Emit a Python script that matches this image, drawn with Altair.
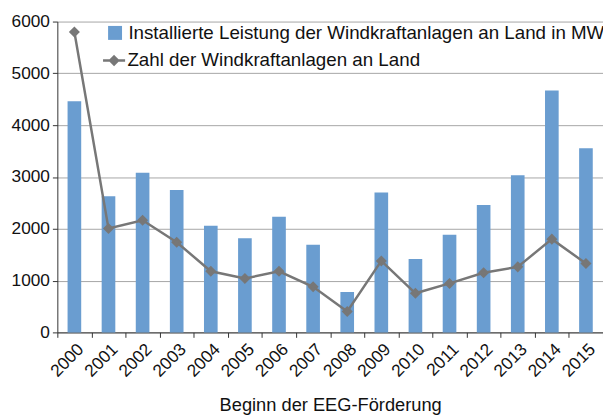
import altair as alt
import pandas as pd

jahre = ["2000", "2001", "2002", "2003", "2004", "2005", "2006", "2007",
         "2008", "2009", "2010", "2011", "2012", "2013", "2014", "2015"]
leistung_mw = [4460, 2630, 3080, 2750, 2060, 1815, 2230, 1690,
               780, 2700, 1415, 1885, 2460, 3035, 4670, 3555]
anzahl_anlagen = [5800, 2005, 2165, 1740, 1180, 1040, 1180, 880,
                  405, 1380, 755, 945, 1150, 1265, 1800, 1330]
y_ticks = [0, 1000, 2000, 3000, 4000, 5000, 6000]

serie_bar = "Installierte Leistung der Windkraftanlagen an Land in MW"
serie_line = "Zahl der Windkraftanlagen an Land"

df = pd.DataFrame({
    "Jahr": jahre,
    "Leistung": leistung_mw,
    "Anzahl": anzahl_anlagen,
    "s1": serie_bar,
    "s2": serie_line,
})

FONT = "Liberation Sans"
BLUE = "#6a9dd0"
GRAY = "#777777"

x_enc = alt.X(
    "Jahr:N", sort=jahre, title="Beginn der EEG-Förderung",
    scale=alt.Scale(paddingInner=0, paddingOuter=0),
    axis=alt.Axis(labelAngle=-45, tickBand="extent", labelFontSize=17.5,
                  titleFontSize=18.5, titlePadding=16, labelPadding=3,
                  tickSize=5, domainColor="#333333", tickColor="#333333",
                  labelColor="#111111", titleColor="#111111",
                  titleFontWeight="normal", grid=False),
)
y_scale = alt.Scale(domain=[0, 6000], nice=False)
y_axis = alt.Axis(values=y_ticks, format="d", title=None, labelFontSize=17.5,
                  grid=True, gridColor="#a6a6a6", gridWidth=1, tickSize=5,
                  domainColor="#333333", tickColor="#333333",
                  labelColor="#111111", labelPadding=3)

bars = alt.Chart(df).mark_bar(width=alt.RelativeBandSize(0.4)).encode(
    x=x_enc,
    y=alt.Y("Leistung:Q", scale=y_scale, axis=y_axis),
    fill=alt.Fill("s1:N", scale=alt.Scale(range=[BLUE]),
                  legend=alt.Legend(title=None, orient="none", legendX=49,
                                    legendY=2, symbolType="square",
                                    symbolSize=200, labelFontSize=19,
                                    labelOffset=4, labelLimit=600,
                                    symbolStrokeWidth=0,
                                    labelColor="#111111")),
)

line = alt.Chart(df).mark_line(
    strokeWidth=2.5,
    point=alt.OverlayMarkDef(shape="diamond", size=70, filled=True, fill=GRAY),
).encode(
    x=alt.X("Jahr:N", sort=jahre),
    y=alt.Y("Anzahl:Q", scale=y_scale, axis=y_axis),
    stroke=alt.Stroke("s2:N", scale=alt.Scale(range=[GRAY]),
                      legend=alt.Legend(title=None, orient="none", legendX=45,
                                        legendY=27,
                                        symbolType="M-1,0H1M0,-0.36L0.36,0L0,0.36L-0.36,0Z",
                                        symbolSize=500, symbolStrokeWidth=2.5,
                                        symbolFillColor=GRAY,
                                        labelFontSize=19, labelOffset=1,
                                        labelLimit=600, labelColor="#111111")),
)

chart = alt.layer(bars, line).properties(
    width=553, height=315,
    autosize=alt.AutoSizeParams(type="none"),
    padding={"left": 50, "top": 11, "right": 0, "bottom": 83},
).configure(font=FONT).configure_view(stroke=None)

chart.save("out.html", embed_options={"renderer": "svg", "actions": False})
